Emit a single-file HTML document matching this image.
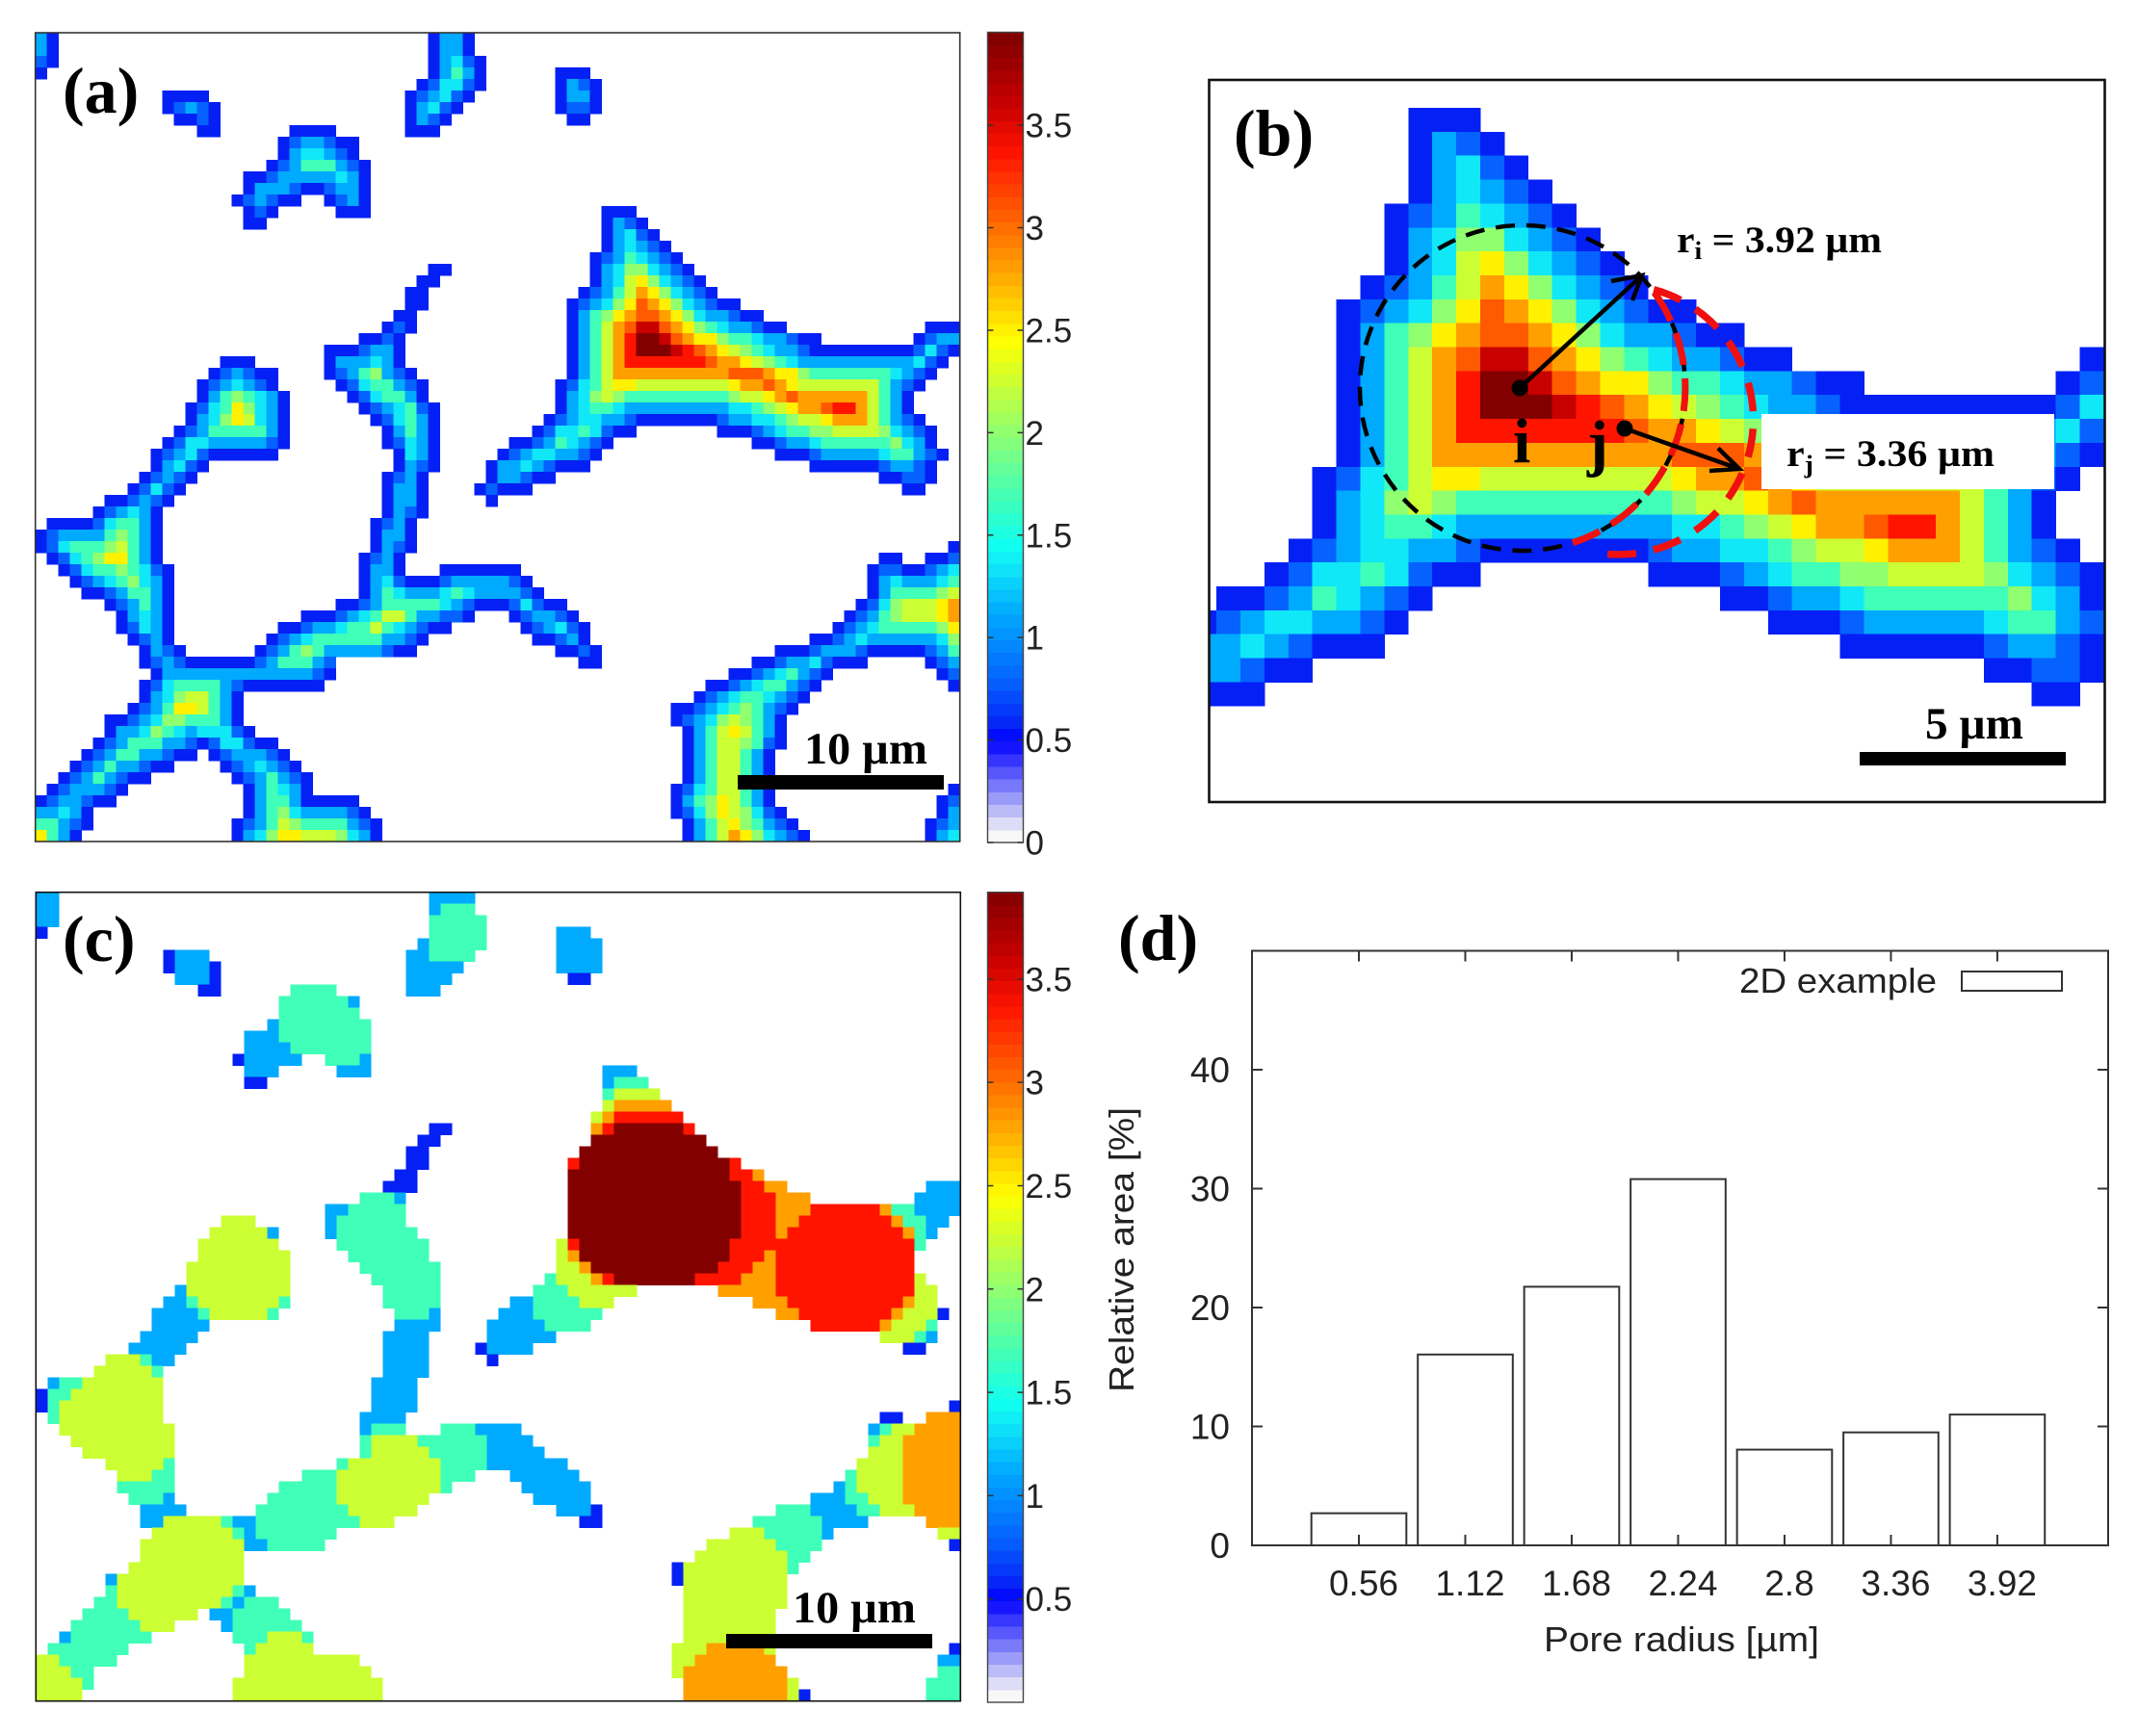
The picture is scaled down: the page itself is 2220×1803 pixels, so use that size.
<!DOCTYPE html>
<html lang="en">
<head>
<meta charset="utf-8">
<title>Pore radius maps</title>
<style>
html,body{margin:0;padding:0;background:#fff}
svg{display:block}
.serif{font-family:"Liberation Serif",serif;font-weight:bold;fill:#000}
.sans{font-family:"Liberation Sans",sans-serif;fill:#222}
</style>
</head>
<body>
<svg id="fig" xmlns="http://www.w3.org/2000/svg" width="2220" height="1803" viewBox="0 0 2220 1803">
<rect x="0" y="0" width="2220" height="1803" fill="#fff"/>
<defs><clipPath id="clipB"><rect x="1255.5" y="83" width="930" height="750"/></clipPath></defs>
<g id="panelA" shape-rendering="crispEdges"></g>
<rect x="36.7" y="34" width="960" height="840" fill="none" stroke="#333" stroke-width="1.6"/>
<g id="cbarA"></g>
<text class="serif" x="65" y="117" font-size="68">(a)</text>
<rect x="766" y="805" width="214" height="15" fill="#000"/>
<text class="serif" x="835" y="793" font-size="47" textLength="128" lengthAdjust="spacingAndGlyphs">10 µm</text>

<g clip-path="url(#clipB)"><g id="panelB" shape-rendering="crispEdges"></g></g>
<rect x="1829" y="430" width="304" height="78" fill="#fff"/>
<circle cx="1581" cy="403" r="169" fill="none" stroke="#000" stroke-width="4.5" stroke-dasharray="20 12"/>
<path d="M1717.7 303.7 A169 169 0 0 1 1633 563.7" fill="none" stroke="#f01010" stroke-width="7" stroke-dasharray="34 14"/>
<path d="M1717.2 300.8 A140 140 0 0 1 1666.4 575.2" fill="none" stroke="#f01010" stroke-width="7.5" stroke-dasharray="30 18"/>
<g>
<circle cx="1578" cy="403" r="8.5" fill="#000"/>
<path d="M1578 403 L1705 286 M1673 292 L1705 286 L1695 312" fill="none" stroke="#000" stroke-width="4.5"/>
</g>
<g>
<circle cx="1687" cy="445" r="8.5" fill="#000"/>
<path d="M1687 445 L1806 487 M1775 489 L1806 487 L1784 465.5" fill="none" stroke="#000" stroke-width="4.5"/>
</g>
<text class="serif" x="1571" y="480" font-size="66">i</text>
<text class="serif" x="1648" y="482" font-size="66">j</text>
<text class="serif" x="1741" y="262" font-size="39" textLength="213" lengthAdjust="spacingAndGlyphs">r<tspan dy="7" font-size="26">i</tspan><tspan dy="-7"> = 3.92 µm</tspan></text>
<text class="serif" x="1855" y="484" font-size="39" textLength="216" lengthAdjust="spacingAndGlyphs">r<tspan dy="7" font-size="26">j</tspan><tspan dy="-7"> = 3.36 µm</tspan></text>
<rect x="1255.5" y="83" width="930" height="750" fill="none" stroke="#111" stroke-width="2.6"/>
<text class="serif" x="1281" y="161" font-size="68">(b)</text>
<rect x="1931" y="781" width="214" height="14" fill="#000"/>
<text class="serif" x="1999" y="767" font-size="47" textLength="102" lengthAdjust="spacingAndGlyphs">5 µm</text>

<g id="panelC" shape-rendering="crispEdges"></g>
<rect x="37.3" y="926.7" width="960" height="840" fill="none" stroke="#111" stroke-width="1.6"/>
<g id="cbarC"></g>
<text class="serif" x="65" y="998" font-size="68">(c)</text>
<rect x="754" y="1697" width="214" height="15" fill="#000"/>
<text class="serif" x="823" y="1685" font-size="47" textLength="128" lengthAdjust="spacingAndGlyphs">10 µm</text>

<text class="serif" x="1161" y="997" font-size="68">(d)</text>
<g id="chartD"></g>
<text class="sans" x="1603" y="1715" font-size="36" textLength="286" lengthAdjust="spacingAndGlyphs">Pore radius [µm]</text>
<text class="sans" transform="translate(1177,1446) rotate(-90)" font-size="36" textLength="296" lengthAdjust="spacingAndGlyphs">Relative area [%]</text>
<text class="sans" x="1806" y="1031" font-size="36" textLength="205" lengthAdjust="spacingAndGlyphs">2D example</text>
<rect x="2037" y="1009" width="104" height="20" fill="#fff" stroke="#333" stroke-width="2"/>
</svg>
<script>
const levelCodes = "123456789ABCD";
const levelValues = [0.56, 0.79, 1.12, 1.35, 1.68, 2.0, 2.24, 2.5, 2.8, 3.08, 3.36, 3.6, 3.92];

const panelARows = [
"0:31 34:1331",
"0:31 34:1331",
"0:21 34:13421",
"0:1 34:13531 45:111",
"33:124421 45:1321",
"11:1111 32:123421 45:1331",
"11:12321 32:13421 45:1221",
"12:1121 32:1321 46:11",
"14:11 22:1111 32:111",
"21:1233211",
"21:1344321",
"20:123555321",
"18:11233333431",
"18:13332112331",
"17:123211 25:1231",
"18:121 26:111 49:111",
"18:11 49:1321",
"49:13421",
"49:134321",
"48:12354321",
"34:11 48:134664321",
"33:11 48:1347864321",
"32:11 47:123579864321",
"32:11 46:123468A98643211",
"31:11 46:13568 9AA986433211",
"30:121 46:13579ACCA9865433211 77:111",
"28:1121 46:13579BDDCA988655433211 76:1233",
"25:1112331 46:13579BDDDCBA9876543321111111112421",
"16:111 25:1333431 46:13579BBBBBBBA998765433333333334 21",
"15:123211 25:12356321 46:13579999999999AAA98865555555 4321",
"14:1234321 26:12455321 45:12457887777777789 9A98777777 75321",
"14:13565431 27:1245531 45:134676555555555677 89A9999997531",
"13:124586431 28:1234521 45:134554333333333 44567899ABB97531",
"13:134687431 29:124531 44:123443321111111233445677 8999 75321",
"12:1235555531 30:13531 43:124454211 59:1112345566777764321",
"11:12443333321 30:12431 41:112354321 62:1123345555556431",
"10:12342111111 31:1431 40:123443321 64:111233333455321",
"10:13421 31:1321 39:133432111 67:11111123321",
"9:12321 30:1231 39:133211 73:11221",
"8:12421 30:1331 38:12111 75:11",
"6:112321 30:1331 39:1",
"5:123431 30:1321",
"1:1111245531 29:1231",
"0:12333356531 29:1331",
"0:12455567531 29:1321 79:1",
"1:1245688531 28:1231 73:11 77:112",
"2:1245565421 28:1331 35:1111111 72:12211234",
"3:123456431 28:134211123333321 72:13433345",
"4:11235531 28:1354333454333321 72:13555567",
"6:123531 26:11235555543211124211 71:124677789",
"7:13431 23:111234577533221 41:123321 70:1235677789",
"7:12431 21:112334557543211 42:123421 69:12345555568",
"8:1231 20:12345555553321 43:11231 67:1123433333346",
"9:1321 19:12356533333211 45:1121 64:1112333211111235",
"9:12321111112355532 47:11 62:1123342111 77:123",
"10:1333333333333321 60:112345321 78:12",
"9:1245555321111111 58:1123455321 79:1",
"9:134677531 57:1234554321",
"8:1235887531 55:11234565321",
"6:112346655531 55:1234676531",
"6:1334654344421 56:135787531",
"5:1235553321244211 56:135776521",
"4:1235533211 15:1233321 56:13577531",
"3:123533211 16:1234321 56:13577531",
"2:12353211 17:1235321 56:13577531",
"1:1233321 18:135431 55:124577531 79:1",
"0:1233211 18:1355311111 55:135687531 78:12",
"0:33431 18:13564333321 55:1246876421 78:13",
"0:55321 17:1235765555321 56:1357865321 77:123",
"0:8531 17:1346887776431 56:13579864321 77:134"
];

const panelCRows = [
"0-1:3 34-37:3",
"0-1:3 34:3 35-37:5",
"0-1:3 34-38:5",
"0:1 34-38:5 45-47:3",
"33:3 34-38:5 45-48:3",
"11:1 12-14:3 32-33:3 34-37:5 45-48:3",
"11:1 12-14:3 15:1 32-36:3 45-48:3",
"12-14:3 15:1 32-35:3 46-47:1",
"14-15:1 22-25:5 32-34:3",
"21-26:5 27:3",
"21-27:5",
"20:3 21-28:5",
"18-20:3 21-28:5",
"18-21:3 22-28:5",
"17:1 18-22:3 25-27:5 28:3",
"18-20:3 26-28:3 49-51:3",
"18-19:1 49:3 50-52:5",
"49:5 50-53:7",
"49:7 50-54:9",
"48:7 49:9 50-55:B",
"34-35:1 48:9 49:B 50-55:D 56:B",
"33-34:1 48-57:D",
"32-33:1 47-58:D",
"32-33:1 46:B 47-59:D 60:B",
"31-32:1 46-59:D 60-61:B 62:9",
"30-32:1 46-60:D 61-62:B 63-64:9 77-79:3",
"28-30:5 31:3 46-60:D 61-63:B 64-66:9 76-79:3",
"25-26:3 27-31:5 46-60:D 61-63:B 64-66:9 67-72:B 73:9 74-75:5 76-79:3",
"16-18:7 25:3 26-31:5 46-60:D 61-63:B 64-65:9 66-73:B 74:9 75-76:5 77-78:3",
"15-19:7 20:3 25:3 26-32:5 46-60:D 61-63:B 64:9 65-74:B 75:9 76:5 77:3",
"14-20:7 26-33:5 45:7 46:B 47-59:D 60-75:B 76:5",
"14-21:7 27-33:5 45:7 46:9 47-59:D 60-62:B 63:9 64-75:B",
"13-21:7 28-34:5 45-46:7 47:9 48-58:D 59-61:B 62-63:9 64-75:B",
"13-21:7 29-34:5 44:5 45-47:7 48:9 49:B 50-56:D 57-60:B 61-63:9 64-75:B 76:7",
"12:3 13-21:7 30-34:5 43-45:5 46-51:7 59-63:9 64-75:B 76-77:7",
"11-12:3 13:5 14-20:7 21:5 30-34:5 41-42:3 43-46:5 47-49:7 62-64:9 65-74:B 75:9 76-77:7",
"10-13:3 14:5 15-19:7 20:5 31-33:5 34:3 40-42:3 43-48:5 64-65:9 66-73:B 74:9 75-77:7 78:1",
"10-14:3 31-34:3 39-43:3 44-47:5 67-72:B 73:9 74-76:7 77:5",
"9-13:3 30-33:3 39-44:3 73-75:7 76:5 77:3",
"8-12:3 30-33:3 38:1 39-42:3 75-76:1",
"6-8:7 9:5 10-11:3 30-33:3 39:1",
"5-9:7 10:5 30-33:3",
"1:3 2-3:5 4-10:7 29-32:3",
"0:1 1-2:5 3-10:7 29-32:3",
"0:1 1:5 2-10:7 29-32:3 79:1",
"1:5 2-10:7 28-31:3 73-74:1 77-79:9",
"2-11:7 28:3 29-31:5 35-37:5 38-41:3 72:3 73:5 74-75:7 76-79:9",
"3-11:7 28:5 29-32:7 33-38:5 39-42:3 72:5 73-74:7 75-79:9",
"4-11:7 28:5 29-33:7 34-38:5 39-43:3 72-74:7 75-79:9",
"6-10:7 11:5 26:5 27-34:7 35-38:5 39-45:3 71-74:7 75-79:9",
"7-9:7 10-11:5 23-25:5 26-34:7 35-37:5 41-46:3 70:5 71-74:7 75-79:9",
"7-11:5 21-25:5 26-34:7 35:5 42-47:3 69:3 70:5 71-74:7 75-79:9",
"8-10:5 11:3 20-25:5 26-33:7 43-47:3 67-69:3 70-71:5 72-74:7 75-79:9",
"9-12:3 19-26:5 27-32:7 45-47:3 48:1 64-66:5 67-70:3 71-72:5 73-75:7 76-79:9",
"9-10:3 11-15:7 16:5 17-18:3 19-27:5 28-30:7 47-48:1 62-67:5 68-71:3 77-79:9",
"10-16:7 17:5 18:3 19-25:5 60-62:7 63-67:5 68:3 78-79:7",
"9-17:7 18-19:3 20-24:5 58-63:7 64-67:5 79:1",
"9-17:7 57-64:7 65-66:5",
"8-17:7 55:1 56-64:7 65:5",
"6:3 7-17:7 55:1 56-64:7",
"6:5 7-16:7 17:5 18:3 56-64:7",
"5-6:5 7-15:7 16:5 17:3 18-20:5 56-64:7",
"4-7:5 8-13:7 15-16:3 17-21:5 56-63:7",
"3-8:5 9-11:7 16:3 17-22:5 56-63:7",
"2:3 3-9:5 17-19:5 20-22:7 23:5 56-63:7",
"1-7:5 18:5 19-23:7 55-57:7 58-62:9 63:7 79:1",
"0-1:7 2-6:5 18-27:7 55-56:7 57-63:9 78-79:3",
"0-2:7 3-4:5 18-28:7 55:7 56-64:9 78-79:5",
"0-3:7 4:5 17-29:7 56-64:9 65:7 77-79:5",
"0-3:7 17-29:7 56-64:9 65:7 66:1 77-79:5"
];

const colormapValues = [0, 0.05, 0.5, 0.56, 0.79, 1.12, 1.35, 1.45, 1.68, 2.0, 2.24, 2.45, 2.8, 3.08, 3.36, 3.6, 3.95];
const colormapColors = ["#ffffff", "#f4f4f6", "#0000ff", "#0520f5", "#0562ff", "#00aaff", "#10e8f8", "#10fff0", "#40ffb8", "#90ff70", "#ccff33", "#ffff00", "#ffa000", "#ff5a00", "#ff1400", "#c80000", "#7c0000"];

const colorbarATicks = [0, 0.5, 1, 1.5, 2, 2.5, 3, 3.5];
const colorbarCTicks = [0.5, 1, 1.5, 2, 2.5, 3, 3.5];

const barRadii = [0.56, 1.12, 1.68, 2.24, 2.8, 3.36, 3.92];
const barLabels = ["0.56", "1.12", "1.68", "2.24", "2.8", "3.36", "3.92"];
const barAreas = [2.7, 16.05, 21.75, 30.8, 8.05, 9.5, 11.0];
const areaTicks = [0, 10, 20, 30, 40];

const NS = "http://www.w3.org/2000/svg";
function make(tag, parent, attrs) {
  const el = document.createElementNS(NS, tag);
  for (const k in attrs) el.setAttribute(k, attrs[k]);
  parent.appendChild(el);
  return el;
}
function hexToRgb(h) {
  return [parseInt(h.slice(1, 3), 16), parseInt(h.slice(3, 5), 16), parseInt(h.slice(5, 7), 16)];
}
function colorFor(v) {
  const xs = colormapValues;
  if (v <= xs[0]) return colormapColors[0];
  for (let i = 1; i < xs.length; i++) {
    if (v <= xs[i]) {
      const t = (v - xs[i - 1]) / (xs[i] - xs[i - 1]);
      const a = hexToRgb(colormapColors[i - 1]);
      const b = hexToRgb(colormapColors[i]);
      return "rgb(" + a.map((c, j) => Math.round(c + (b[j] - c) * t)).join(",") + ")";
    }
  }
  return colormapColors[colormapColors.length - 1];
}
function valueOfCode(ch) {
  return levelValues[levelCodes.indexOf(ch)];
}
function decodeDigitRows(rows) {
  const cells = [];
  rows.forEach((row, r) => {
    row.split(" ").reduce((state, tok) => {
      let start = state.col;
      let body = tok;
      if (tok.indexOf(":") >= 0) {
        const p = tok.split(":");
        start = parseInt(p[0], 10);
        body = p[1];
      }
      for (let i = 0; i < body.length; i++) {
        cells.push({ r: r, c: start + i, v: valueOfCode(body[i]) });
      }
      return { col: start + body.length };
    }, { col: 0 });
  });
  return cells;
}
function decodeSpanRows(rows) {
  const cells = [];
  rows.forEach((row, r) => {
    row.split(" ").forEach(tok => {
      const p = tok.split(":");
      const span = p[0].split("-");
      const a = parseInt(span[0], 10);
      const b = span.length > 1 ? parseInt(span[1], 10) : a;
      for (let c = a; c <= b; c++) {
        cells.push({ r: r, c: c, v: valueOfCode(p[1]) });
      }
    });
  });
  return cells;
}
function drawHeatmap(groupId, cells, xOf, yOf, w, h) {
  const g = document.getElementById(groupId);
  cells.forEach(cell => {
    const el = make("rect", g, {
      x: xOf(cell.c).toFixed(2),
      y: yOf(cell.r).toFixed(2),
      width: (w + 0.4).toFixed(2),
      height: (h + 0.4).toFixed(2),
      fill: colorFor(cell.v)
    });
    
    
  });
}
function drawColorbar(groupId, x0, x1, yTop, yBottom, vMax, ticks) {
  const g = document.getElementById(groupId);
  const yOf = v => yBottom - (v / vMax) * (yBottom - yTop);
  const bands = 64;
  for (let i = 0; i < bands; i++) {
    const lo = vMax * i / bands;
    const hi = vMax * (i + 1) / bands;
    const band = make("rect", g, {
      x: x0, y: yOf(hi).toFixed(2), width: x1 - x0,
      height: (yOf(lo) - yOf(hi) + 0.4).toFixed(2),
      fill: colorFor((lo + hi) / 2), "shape-rendering": "crispEdges"
    });
    
    
  }
  const frame = make("rect", g, {
    x: x0, y: yTop, width: x1 - x0, height: yBottom - yTop,
    fill: "none", stroke: "#444", "stroke-width": 1.4
  });
  
  
  ticks.forEach(t => {
    const y = yOf(t);
    const tick = make("path", g, {
      d: "M" + x0 + " " + y + "h6M" + (x1 - 6) + " " + y + "h6",
      stroke: "#333", "stroke-width": 1.5, fill: "none"
    });
    
    
    const label = make("text", g, { x: x1 + 2, y: y + 12.5, "font-size": 35, class: "sans" });
    label.textContent = String(t);
    
    
  });
}

const cellsA = decodeDigitRows(panelARows);
const cellsC = decodeSpanRows(panelCRows);
drawHeatmap("panelA", cellsA, c => 36.7 + 12 * c, r => 34 + 12 * r, 12, 12);
drawHeatmap("panelB", cellsA.filter(d => d.r >= 15 && d.r <= 39 && d.c >= 40 && d.c <= 78),
  c => 1462.3 + 24.9 * (c - 49), r => 112 + 24.85 * (r - 15), 24.9, 24.85);
drawHeatmap("panelC", cellsC, c => 37.3 + 12 * c, r => 926.7 + 12 * r, 12, 12);
drawColorbar("cbarA", 1025.5, 1062.5, 33.5, 875, 3.954, colorbarATicks);
drawColorbar("cbarC", 1025.5, 1062.5, 926.7, 1768, 3.92, colorbarCTicks);

/* panel d histogram */
(function () {
  const g = document.getElementById("chartD");
  const left = 1300, right = 2189, top = 987.5, bottom = 1605;
  const xOf = v => 1411 + (v - 0.56) * 197.3;
  const yOf = v => bottom - v * 12.35;
  const barWidth = 0.5;
  barRadii.forEach((rad, i) => {
    const bar = make("rect", g, {
      x: (xOf(rad - barWidth / 2)).toFixed(2),
      y: yOf(barAreas[i]).toFixed(2),
      width: (xOf(rad + barWidth / 2) - xOf(rad - barWidth / 2)).toFixed(2),
      height: (bottom - yOf(barAreas[i])).toFixed(2),
      fill: "#fff", stroke: "#333", "stroke-width": 2
    });
    
    
  });
  const frame = make("rect", g, {
    x: left, y: top, width: right - left, height: bottom - top,
    fill: "none", stroke: "#333", "stroke-width": 2
  });
  
  
  barRadii.forEach((rad, i) => {
    const x = xOf(rad);
    const tick = make("path", g, {
      d: "M" + x + " " + bottom + "v-11M" + x + " " + top + "v11",
      stroke: "#333", "stroke-width": 2, fill: "none"
    });
    
    
    const label = make("text", g, {
      x: x + 5, y: 1657, "font-size": 37, "text-anchor": "middle", class: "sans"
    });
    label.textContent = barLabels[i];
    
    
  });
  areaTicks.forEach(t => {
    const y = yOf(t);
    const tick = make("path", g, {
      d: "M" + left + " " + y + "h11M" + right + " " + y + "h-11",
      stroke: "#333", "stroke-width": 2, fill: "none"
    });
    
    
    const label = make("text", g, {
      x: 1277, y: y + 13, "font-size": 37, "text-anchor": "end", class: "sans"
    });
    label.textContent = String(t);
    
    
  });
})();
</script>
</body>
</html>
